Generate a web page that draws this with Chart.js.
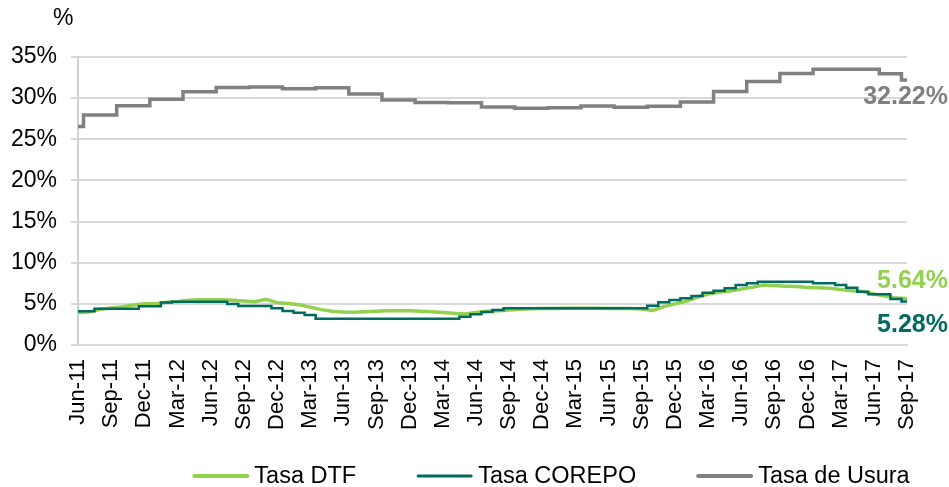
<!DOCTYPE html>
<html><head><meta charset="utf-8">
<script src="https://cdn.jsdelivr.net/npm/chart.js@4/dist/chart.umd.min.js"></script>
<style>html,body{margin:0;padding:0;background:#fff}#wrap{width:949px;height:487px;position:relative}</style>
</head><body><div id="wrap"><canvas id="c"></canvas></div>
<script>
const labels = [
 'Jun-11','Jul-11','Aug-11','Sep-11','Oct-11','Nov-11','Dec-11',
 'Jan-12','Feb-12','Mar-12','Apr-12','May-12','Jun-12','Jul-12','Aug-12','Sep-12','Oct-12','Nov-12','Dec-12',
 'Jan-13','Feb-13','Mar-13','Apr-13','May-13','Jun-13','Jul-13','Aug-13','Sep-13','Oct-13','Nov-13','Dec-13',
 'Jan-14','Feb-14','Mar-14','Apr-14','May-14','Jun-14','Jul-14','Aug-14','Sep-14','Oct-14','Nov-14','Dec-14',
 'Jan-15','Feb-15','Mar-15','Apr-15','May-15','Jun-15','Jul-15','Aug-15','Sep-15','Oct-15','Nov-15','Dec-15',
 'Jan-16','Feb-16','Mar-16','Apr-16','May-16','Jun-16','Jul-16','Aug-16','Sep-16','Oct-16','Nov-16','Dec-16',
 'Jan-17','Feb-17','Mar-17','Apr-17','May-17','Jun-17','Jul-17','Aug-17','Sep-17'
];
const tasaDTF = [
 3.94,4.0,4.35,4.5,4.62,4.85,5.0,5.0,5.2,5.3,
 5.45,5.5,5.5,5.5,5.45,5.35,5.25,5.55,5.15,5.05,
 4.9,4.6,4.3,4.1,4.0,3.98,4.05,4.1,4.15,4.15,
 4.15,4.1,4.05,3.95,3.85,3.78,3.95,4.1,4.15,4.25,
 4.35,4.4,4.45,4.45,4.47,4.47,4.47,4.47,4.45,4.45,
 4.43,4.38,4.2,4.67,5.0,5.3,5.8,6.2,6.4,6.55,
 6.8,7.0,7.3,7.22,7.15,7.1,7.0,6.95,6.9,6.75,
 6.6,6.5,6.2,5.95,5.7,5.64
];
const tasaCOREPO = [
 4.1,4.1,4.4,4.4,4.4,4.4,4.7,4.7,5.15,5.27,
 5.27,5.27,5.27,5.27,4.98,4.74,4.74,4.74,4.46,4.13,
 3.93,3.64,3.2,3.2,3.2,3.2,3.2,3.2,3.2,3.2,
 3.2,3.2,3.2,3.2,3.2,3.44,3.73,4.0,4.25,4.46,
 4.46,4.46,4.46,4.46,4.46,4.46,4.46,4.46,4.46,4.46,
 4.46,4.46,4.78,5.19,5.47,5.67,5.95,6.36,6.6,6.9,
 7.29,7.5,7.7,7.7,7.7,7.7,7.7,7.5,7.5,7.29,
 6.97,6.48,6.16,6.16,5.6,5.28
];
const tasaUsura = [
 26.54,27.95,27.95,27.95,29.09,29.09,29.09,29.88,29.88,29.88,
 30.78,30.78,30.78,31.29,31.29,31.29,31.34,31.34,31.34,31.13,
 31.13,31.13,31.25,31.25,31.25,30.51,30.51,30.51,29.78,29.78,
 29.78,29.48,29.48,29.48,29.45,29.45,29.45,28.93,28.93,28.93,
 28.76,28.76,28.76,28.82,28.82,28.82,29.06,29.06,29.06,28.89,
 28.89,28.89,29.00,29.00,29.00,29.52,29.52,29.52,30.81,30.81,
 30.81,32.01,32.01,32.01,32.99,32.99,32.99,33.51,33.51,33.51,
 33.50,33.50,33.50,32.97,32.97,32.22
];
const seriesNames = ['Tasa DTF','Tasa COREPO','Tasa de Usura'];
const seriesColors = ['#92D050','#006B5E','#808080'];
const yTickValues = [0,5,10,15,20,25,30,35];

const FONT = "'Liberation Sans', Arial, sans-serif";

const extras = {
  id:'extras',
  afterDatasetsDraw(chart){
    const ctx = chart.ctx;
    ctx.save();
    // % title
    ctx.fillStyle = '#000';
    ctx.font = '23px ' + FONT;
    ctx.textAlign = 'left';
    ctx.textBaseline = 'middle';
    ctx.fillText('%', 53, 19);
    // end labels
    const offsets = [-17, 24, 17];
    chart.data.datasets.forEach((ds, i) => {
      const meta = chart.getDatasetMeta(i);
      const last = meta.data[meta.data.length - 1];
      const v = ds.data[ds.data.length - 1];
      ctx.font = 'bold 25px ' + FONT;
      ctx.fillStyle = ds.borderColor;
      ctx.textAlign = 'right';
      ctx.textBaseline = 'middle';
      ctx.fillText(v.toFixed(2) + '%', chart.width - 1, last.y + offsets[i]);
    });
    // legend
    ctx.font = '23.5px ' + FONT;
    const lineLen = 53, gapTxt = 7, gapItem = 62;
    let total = 0;
    const widths = seriesNames.map(n => ctx.measureText(n).width);
    widths.forEach((w, i) => { total += lineLen + gapTxt + w + (i < widths.length - 1 ? gapItem : 0); });
    let x = 552 - total / 2;
    const y = 476;
    chart.data.datasets.forEach((ds, i) => {
      ctx.strokeStyle = ds.borderColor;
      ctx.lineWidth = i === 1 ? 3 : 4;
      ctx.lineCap = 'round';
      ctx.beginPath(); ctx.moveTo(x, y); ctx.lineTo(x + lineLen, y); ctx.stroke();
      ctx.fillStyle = '#000';
      ctx.textAlign = 'left';
      ctx.textBaseline = 'middle';
      ctx.fillText(seriesNames[i], x + lineLen + gapTxt, y + 1);
      x += lineLen + gapTxt + widths[i] + gapItem;
    });
    ctx.restore();
  }
};

new Chart(document.getElementById('c'), {
  type:'line',
  data:{
    labels: labels,
    datasets:[
      {label:seriesNames[0], data:tasaDTF, borderColor:seriesColors[0], backgroundColor:seriesColors[0], borderWidth:3.5, pointRadius:0, tension:0, order:2},
      {label:seriesNames[1], data:tasaCOREPO, borderColor:seriesColors[1], backgroundColor:seriesColors[1], borderWidth:2.5, pointRadius:0, stepped:'middle', order:1},
      {label:seriesNames[2], data:tasaUsura, borderColor:seriesColors[2], backgroundColor:seriesColors[2], borderWidth:3.5, pointRadius:0, stepped:'middle', order:0}
    ]
  },
  options:{
    responsive:true, maintainAspectRatio:false, animation:false, devicePixelRatio:1,
    layout:{padding:{left:0, right:42, top:57, bottom:0}},
    plugins:{legend:{display:false}, tooltip:{enabled:false}},
    scales:{
      x:{
        grid:{display:false, drawTicks:false},
        border:{display:true, color:'#d9d9d9', width:2},
        ticks:{autoSkip:false, maxRotation:90, minRotation:90, padding:14, color:'#000',
          font:{family:FONT, size:22},
          callback:function(v, i){ return i % 3 === 0 ? labels[i] : null; }},
        afterFit:function(s){ s.height = 142; }
      },
      y:{
        min:0, max:35,
        afterBuildTicks:function(s){ s.ticks = yTickValues.map(v => ({value:v})); },
        grid:{color:'#d9d9d9', lineWidth:2, tickLength:7},
        border:{display:true, color:'#d0d0d0', width:2},
        ticks:{padding:14, color:'#000', font:{family:FONT, size:23},
          callback:function(v){ return v + '%'; }},
        afterFit:function(s){ s.width = 78; }
      }
    }
  },
  plugins:[extras]
});
</script>
</body></html>
